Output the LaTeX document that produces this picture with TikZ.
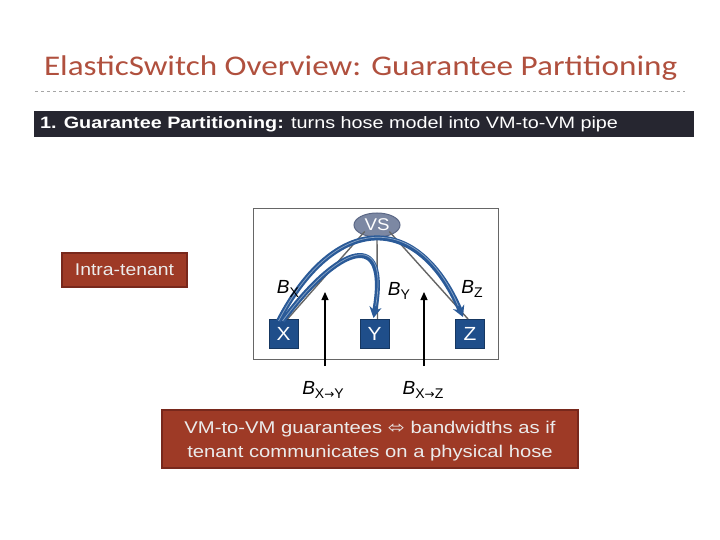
\documentclass[tikz,border=0pt]{standalone}
\usepackage{fontspec}
\setmainfont{Liberation Sans}
\newfontfamily\titlefont{Carlito}
\newfontfamily\symfont{DejaVu Sans}
\usetikzlibrary{arrows.meta,positioning,calc,shapes.geometric}
\definecolor{titlered}{RGB}{176,80,62}
\definecolor{barblack}{RGB}{38,38,48}
\definecolor{boxred}{RGB}{158,58,38}
\definecolor{boxredline}{RGB}{120,40,28}
\definecolor{vmblue}{RGB}{31,78,138}
\definecolor{pathblue}{RGB}{42,90,152}
\definecolor{vsgray}{RGB}{124,136,163}
\definecolor{vsline}{RGB}{92,104,134}
\newcommand{\wide}[2][1.19]{\scalebox{#1}[1]{#2}}
\newcommand{\bw}[1]{{\itshape B}\raisebox{-4pt}{\fontsize{14}{14}\selectfont #1}}
\newcommand{\toarr}{{\symfont\fontsize{12}{12}\selectfont →}}

\begin{document}
\begin{tikzpicture}[x=1pt,y=-1pt,every node/.style={inner sep=0pt,outer sep=0pt}]
\tikzset{
  vmbox/.style={draw=vmblue!70!black,fill=vmblue,minimum width=29pt,minimum height=29pt,text=white,font=\fontsize{19}{20}\selectfont},
  redbox/.style={draw=boxredline,line width=1.5pt,fill=boxred,text=white!92!black,align=center},
  link/.style={draw=gray!80!black,line width=1.4pt},
  hosepath/.style={draw=pathblue,line width=5pt,-{Stealth[length=11pt,width=12pt]}},
  pipecore/.style={draw=pathblue!55!white,line width=0.7pt,shorten >=12pt},
  blabel/.style={font=\fontsize{19}{20}\selectfont},
  uparrow/.style={draw=black,line width=1.2pt,-{Triangle[length=8pt,width=7pt]}}
}
\useasboundingbox (0,0) rectangle (720,540);

% title and header bar
\node[anchor=base west,text=titlered,font=\titlefont\fontsize{28.5}{30}\selectfont] (title) at (44,76) {\wide[1.164]{ElasticSwitch Overview: Guarantee Partitioning}};
\draw[gray!70,dashed,line width=0.6pt] (35,91) -- (685,91);
\node[fill=barblack,minimum width=660pt,minimum height=26pt,anchor=north west] (bar) at (34,111) {};
\node[anchor=west,text=white,font=\fontsize{16.5}{18}\selectfont] (bartext) at (40,124) {\wide[1.2]{\textbf{1. Guarantee Partitioning:} turns hose model into VM-to-VM pipe}};

% left tag
\node[redbox,minimum width=125pt,minimum height=34pt,font=\fontsize{17}{18}\selectfont,anchor=north west] (intra) at (62,253) {\wide[1.14]{Intra-tenant}};

% tenant box
\node[draw=gray!80!black,line width=0.8pt,fill=white,minimum width=245pt,minimum height=151pt,anchor=north west] (tenant) at (253,208) {};

\node[ellipse,draw=vsline,line width=1pt,fill=vsgray,minimum width=46pt,minimum height=24pt,text=white,font=\fontsize{17}{18}\selectfont] (vs) at (377,225) {\wide[1.1]{VS}};
\node[vmbox] (x) at (283.5,333.5) {\wide[1.1]{X}};
\node[vmbox] (y) at (374.5,333.5) {\wide[1.1]{Y}};
\node[vmbox] (z) at (470,333.5) {\wide[1.1]{Z}};

\draw[link] (vs.south west) ++(4,-2) -- ($(x.north)+(4,0)$);
\draw[link] (vs.south) -- ($(y.north)+(3,0)$);
\draw[link] (vs.south east) ++(-4,-2) -- ($(z.north)+(-2,0)$);

% hose paths (drawn as pipes)
\draw[hosepath] ($(x.north)+(-5,2)$) .. controls (335,212) and (418,212) .. ($(z.north)+(-7,-2)$);
\draw[pipecore] ($(x.north)+(-5,2)$) .. controls (335,212) and (418,212) .. ($(z.north)+(-7,-2)$);
\draw[hosepath] ($(x.north)+(-1,2)$) .. controls (338,246) and (390,226) .. ($(y.north)+(-1,-1)$);
\draw[pipecore] ($(x.north)+(-1,2)$) .. controls (338,246) and (390,226) .. ($(y.north)+(-1,-1)$);

\node[blabel] (bx) at (288,289) {\bw{X}};
\node[blabel] (by) at (399,291) {\bw{Y}};
\node[blabel] (bz) at (472,289) {\bw{Z}};

% pipe labels
\node[blabel,anchor=base] (bxy) at (323,394) {\bw{X\toarr Y}};
\node[blabel,anchor=base] (bxz) at (423,394) {\bw{X\toarr Z}};
\coordinate (pxy) at (325,292);
\coordinate (pxz) at (424,292);
\draw[uparrow] (325,366) -- (pxy);
\draw[uparrow] (424,366) -- (pxz);

% note
\node[redbox,minimum width=416pt,minimum height=58pt,font=\fontsize{17}{24}\selectfont,anchor=north west] (note) at (162,410) {\rule{0pt}{17pt}\wide{VM-to-VM guarantees {\symfont ⬄} bandwidths as if}\\\wide{tenant communicates on a physical hose}};
\end{tikzpicture}
\end{document}
